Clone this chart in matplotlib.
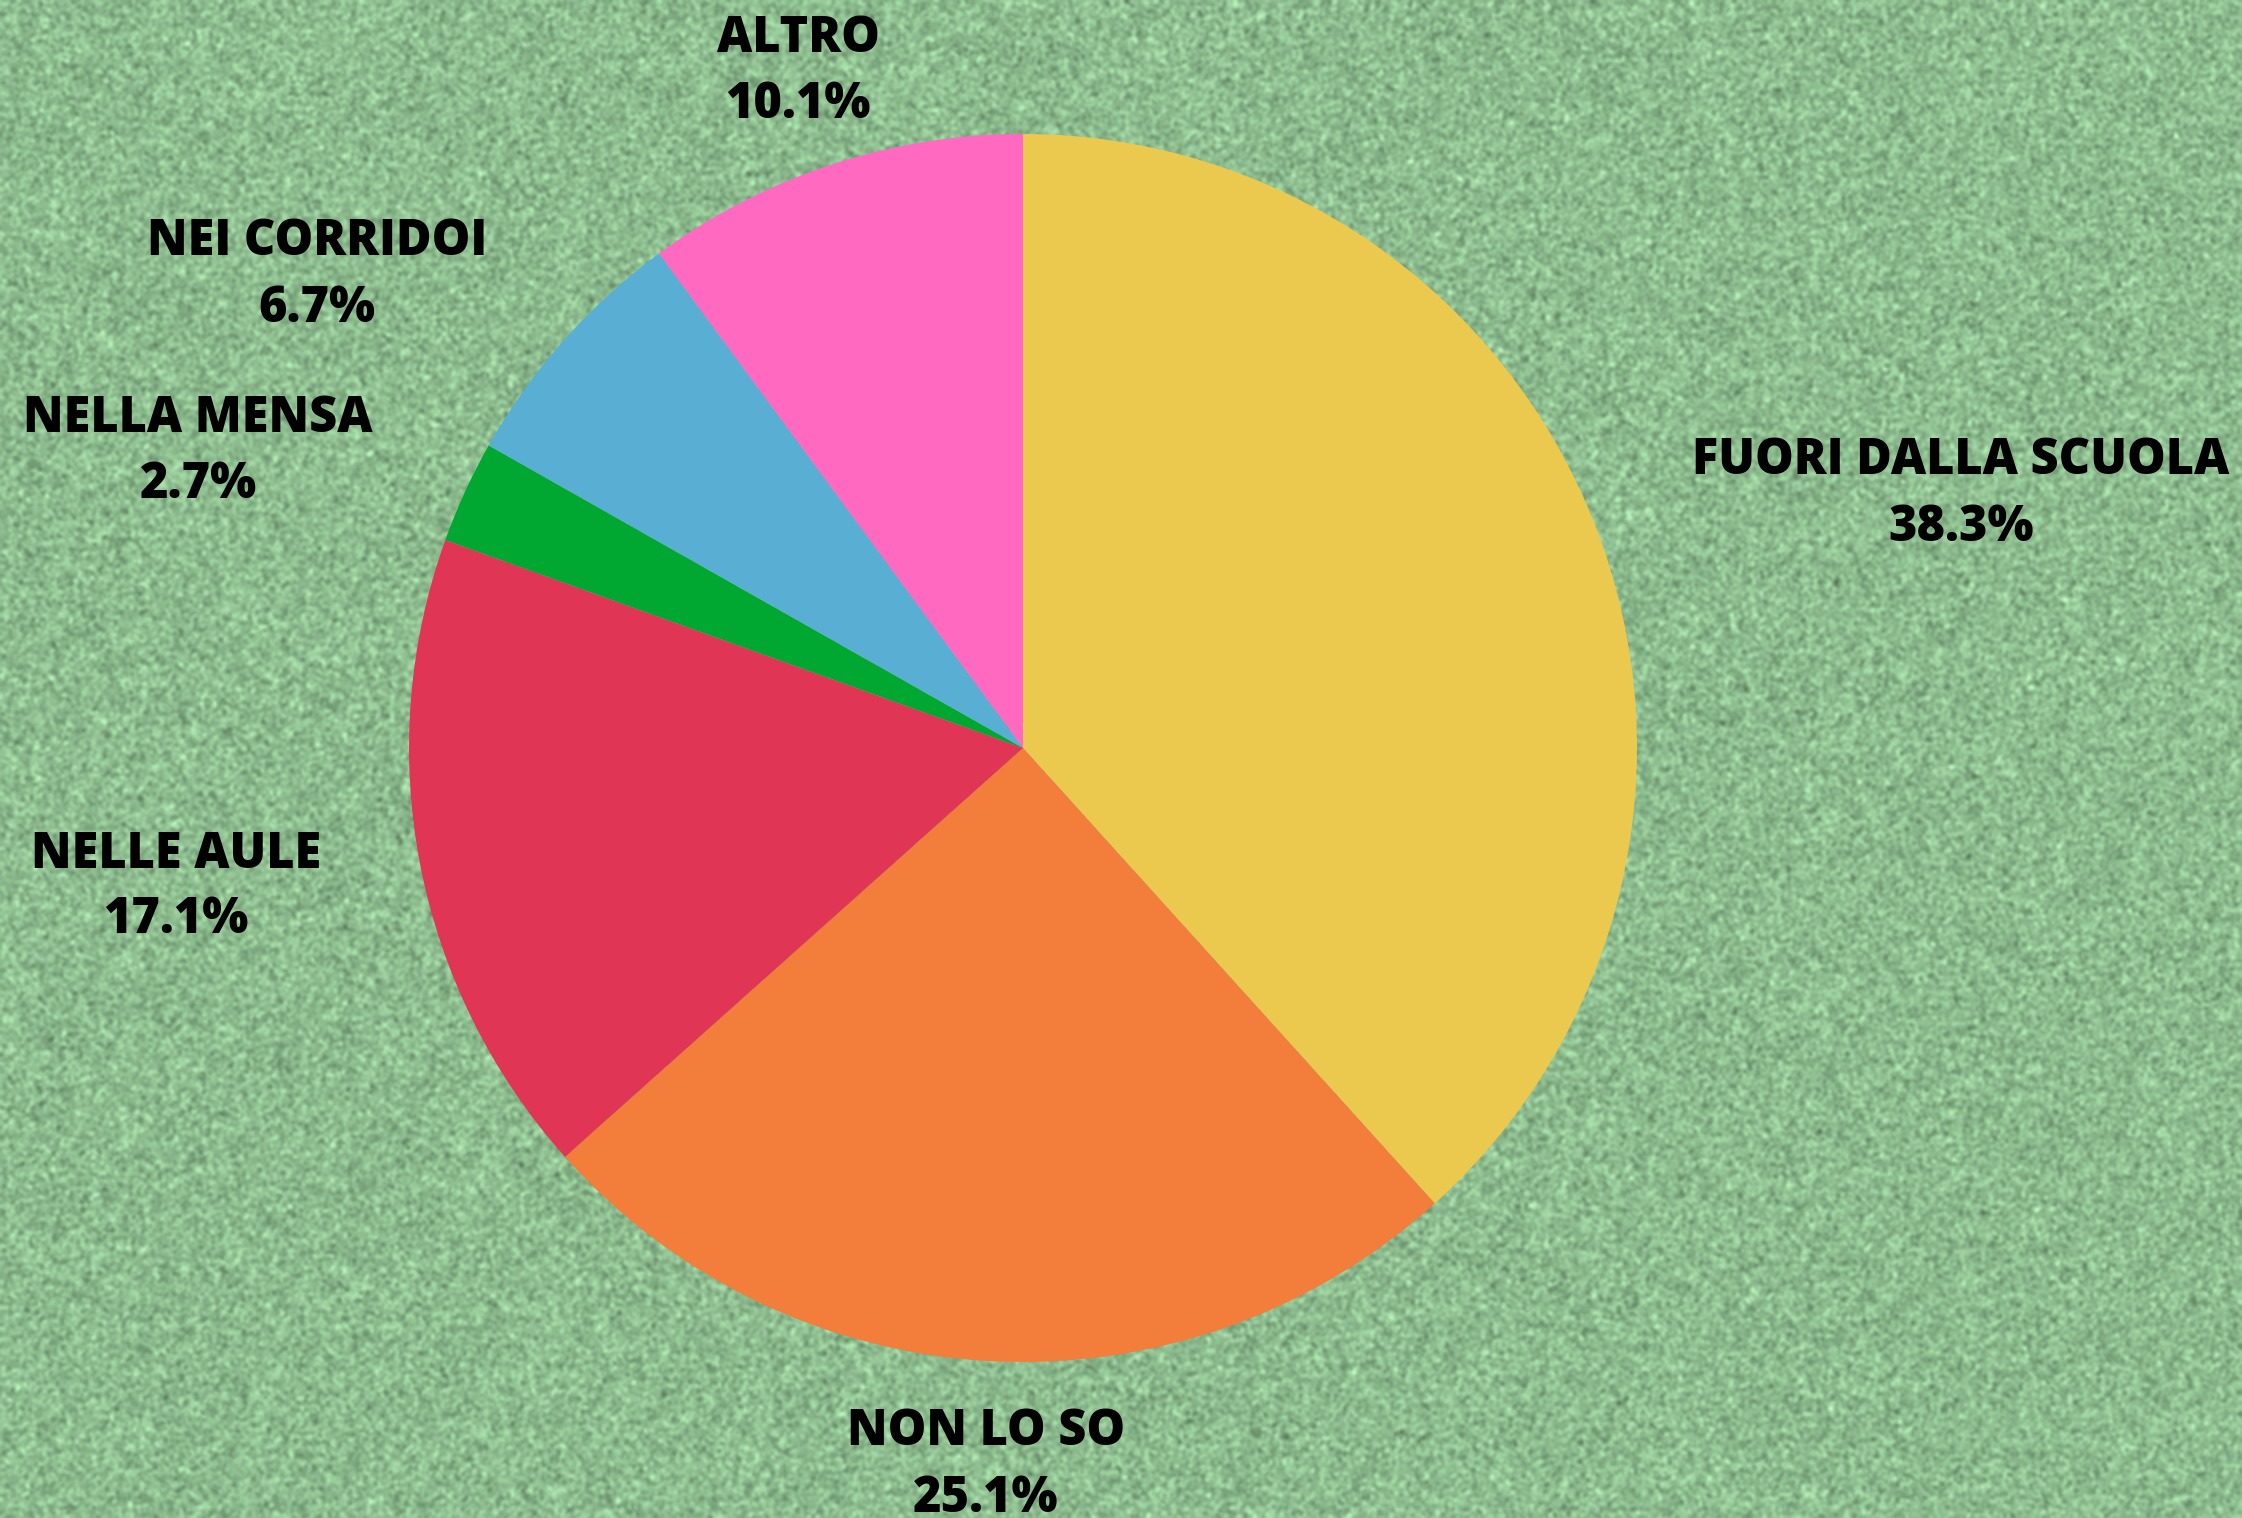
import numpy as np
import matplotlib
matplotlib.use("Agg")
import matplotlib.pyplot as plt

# ---- data ----
categories = ["FUORI DALLA SCUOLA", "NON LO SO", "NELLE AULE", "NELLA MENSA", "NEI CORRIDOI", "ALTRO"]
values = [38.3, 25.1, 17.1, 2.7, 6.7, 10.1]
pct_labels = ["38.3%", "25.1%", "17.1%", "2.7%", "6.7%", "10.1%"]
colors = ["#EBC94F", "#F37D3A", "#E03555", "#00A832", "#58AED3", "#FF69C0"]

W, H = 2242, 1518
fig = plt.figure(figsize=(W / 100, H / 100), dpi=100)
ax = fig.add_axes([0, 0, 1, 1])

# textured green background (decorative)
rng = np.random.default_rng(3)
base = np.array([0x8D, 0xBC, 0x8F]) / 255.0
noise = rng.normal(0, 1, (H // 2, W // 2))
k = np.array([1, 2, 1], float); k /= k.sum()
noise = np.apply_along_axis(lambda r: np.convolve(r, k, mode="same"), 1, noise)
noise = np.apply_along_axis(lambda c: np.convolve(c, k, mode="same"), 0, noise)
noise = noise / noise.std()
img = np.clip(base[None, None, :] + 0.06 * noise[..., None] * np.array([0.8, 1.0, 0.8]), 0, 1)
ax.imshow(img, extent=[0, W, 0, H], origin="upper", interpolation="bilinear", zorder=0)

ax.pie(values, colors=colors, startangle=90, counterclock=False,
       center=(1023, H - 748), radius=614,
       wedgeprops=dict(linewidth=0, zorder=1), frame=True)

ax.set_xlim(0, W)
ax.set_ylim(0, H)
ax.set_aspect("auto")
ax.axis("off")

# label layout: (x centre, baseline of name, baseline of pct) in pixels from top
label_pos = [
    (1961, 474, 541),
    (986, 1445, 1512),
    (176, 868, 933),
    (198, 432, 498),
    (317, 255, 322),
    (798, 52, 118),
]
font = dict(family=["Open Sans", "DejaVu Sans"], fontweight=800, fontsize=35, color="black")
for name, pct, (x, yb1, yb2) in zip(categories, pct_labels, label_pos):
    ax.text(x, H - yb1, name, ha="center", va="baseline", zorder=3, **font)
    ax.text(x, H - yb2, pct, ha="center", va="baseline", zorder=3, **font)

fig.savefig("out.png", dpi=100)
